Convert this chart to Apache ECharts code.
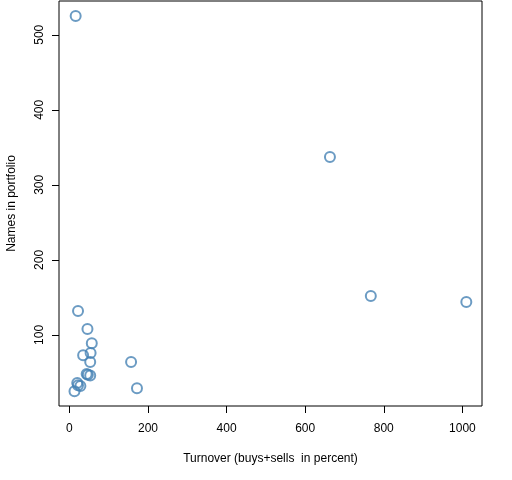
<!DOCTYPE html>
<html>
<head>
<meta charset="utf-8">
<script src="https://cdn.jsdelivr.net/npm/echarts@6/dist/echarts.min.js"></script>
<style>html,body{margin:0;padding:0;background:#fff}#c{width:512px;height:480px}</style>
</head>
<body>
<div id="c"></div>
<script>
var turnover = [16, 663, 767, 1010, 157, 172, 22, 46, 57, 35, 54, 53, 47, 53, 44, 20, 28, 22, 13];
var names    = [525, 337, 152, 144, 64, 29, 132, 108, 89, 73, 76, 64, 47, 46, 48, 36, 32, 33, 25];
var xTicks = [0, 200, 400, 600, 800, 1000];
var yTicks = [100, 200, 300, 400, 500];
var xTitle = 'Turnover (buys+sells  in percent)';
var yTitle = 'Names in portfolio';

var pts = turnover.map(function(v, i){ return [v, names[i]]; });
var font = 'Liberation Sans, Arial, sans-serif';
var chart = echarts.init(document.getElementById('c'));
chart.setOption({
  animation: false,
  backgroundColor: '#fff',
  grid: {left: 59, right: 30, top: 1, bottom: 74, containLabel: false, outerBoundsMode: 'none',
         show: true, borderColor: '#000', borderWidth: 1, backgroundColor: 'transparent'},
  xAxis: {
    type: 'value', min: -26.4, max: 1049.9,
    name: xTitle, nameLocation: 'middle', nameGap: 47,
    nameTextStyle: {fontFamily: font, fontSize: 12, color: '#000'},
    axisLine: {show: false, onZero: false},
    splitLine: {show: false},
    axisTick: {show: true, length: 7, inside: false, lineStyle: {color: '#000'}, customValues: xTicks},
    axisLabel: {margin: 17, fontFamily: font, fontSize: 12, color: '#000', customValues: xTicks,
                formatter: function(v){ return String(v); }}
  },
  yAxis: {
    type: 'value', min: 5.3, max: 545,
    name: yTitle, nameLocation: 'middle', nameGap: 41,
    nameTextStyle: {fontFamily: font, fontSize: 12, color: '#000'},
    axisLine: {show: false, onZero: false},
    splitLine: {show: false},
    axisTick: {show: true, length: 7, inside: false, lineStyle: {color: '#000'}, customValues: yTicks},
    axisLabel: {margin: 13, rotate: 90, fontFamily: font, fontSize: 12, color: '#000', customValues: yTicks,
                formatter: function(v){ return String(v); }}
  },
  series: [{
    type: 'scatter', data: pts, symbol: 'circle', symbolSize: 10,
    itemStyle: {color: 'rgba(0,0,0,0)', borderColor: '#4682B4', borderWidth: 2}
  }]
});
</script>
</body>
</html>
